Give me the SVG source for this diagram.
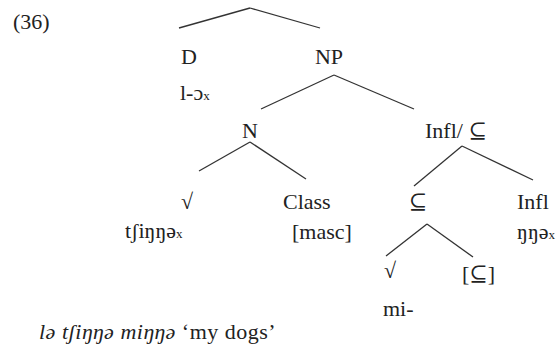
<svg xmlns="http://www.w3.org/2000/svg" width="560" height="356" viewBox="0 0 560 356">
<style>
text{font-family:"Liberation Serif","DejaVu Serif",serif;font-size:22px;fill:#222}
.m{text-anchor:middle}
.sub{font-size:13px}
.it{font-style:italic}
.cap{letter-spacing:0.5px}
line{stroke:#333;stroke-width:1.3}
</style>
<rect width="560" height="356" fill="#fff"/>
<text x="13" y="29">(36)</text>
<g id="edges">
<line x1="179" y1="28" x2="250" y2="8"/>
<line x1="250" y1="8" x2="320" y2="28"/>
<line x1="334" y1="75" x2="261" y2="109"/>
<line x1="334" y1="75" x2="414" y2="109"/>
<line x1="250" y1="142" x2="199" y2="171"/>
<line x1="250" y1="142" x2="306" y2="179"/>
<line x1="462" y1="146" x2="414" y2="186"/>
<line x1="462" y1="146" x2="533" y2="180"/>
<line x1="427" y1="224" x2="386" y2="256"/>
<line x1="427" y1="224" x2="473" y2="257"/>
</g>
<g id="D"><text class="m" x="189" y="64">D</text><text x="180" y="100">l-ɔ<tspan class="sub">x</tspan></text></g>
<g id="NP"><text class="m" x="329" y="64">NP</text></g>
<g id="N"><text class="m" x="250" y="138">N</text></g>
<g id="InflSub"><text x="425" y="138">Infl/ ⊆</text></g>
<g id="Root1"><text class="m" x="187" y="209">√</text><text x="125" y="238">tʃiŋŋə<tspan class="sub">x</tspan></text></g>
<g id="Class"><text x="283" y="209">Class</text><text x="292" y="239">[masc]</text></g>
<g id="Sub"><text class="m" x="418" y="209">⊆</text></g>
<g id="Infl"><text x="517" y="209">Infl</text><text x="517" y="239">ŋŋə<tspan class="sub">x</tspan></text></g>
<g id="Root2"><text class="m" x="390" y="278">√</text><text x="383" y="316">mi-</text></g>
<g id="SubFeat"><text x="462" y="281">[⊆]</text></g>
<text class="cap" x="39" y="339"><tspan class="it">lə tʃiŋŋə miŋŋə</tspan> ‘my dogs’</text>
</svg>
